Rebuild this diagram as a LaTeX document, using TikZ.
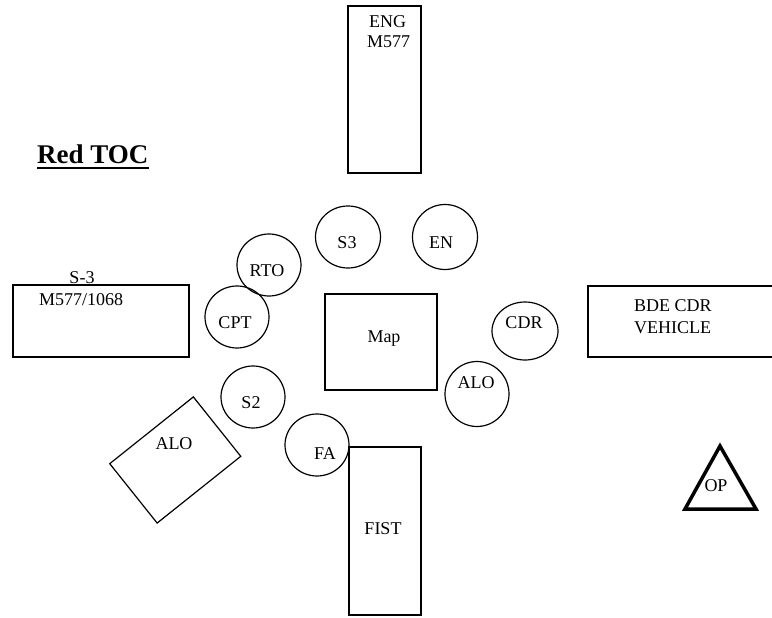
\documentclass[tikz,border=0pt]{standalone}
\usepackage{fontspec}
\setmainfont{Liberation Serif}
\usetikzlibrary{shapes.geometric}
\begin{document}
\begin{tikzpicture}[x=1pt,y=-1pt,
  box/.style={draw, line width=1.2pt, rectangle, inner sep=0pt, anchor=center},
  circ/.style={draw, line width=1.2pt, ellipse, inner sep=0pt, minimum width=64pt, minimum height=62pt},
  txt/.style={inner sep=0pt, anchor=base, font=\fontsize{18}{21}\selectfont},
  txtl/.style={txt, anchor=base west}]
\useasboundingbox (0,0) rectangle (772,618);
\clip (0,0) rectangle (772,618);
% title
\node[inner sep=0pt, anchor=base west, font=\fontsize{27}{30}\selectfont\bfseries] (title) at (37,164) {Red TOC};
\draw[line width=2pt] ([yshift=-4pt]title.base west) -- ([yshift=-4pt]title.base east);
% boxes
\node[box, minimum width=73pt, minimum height=167pt] (eng) at (384.5,89.5) {};
\node[txtl] (engA) at (369,28) {ENG};
\node[txtl] (engB) at (367,48) {M577};
\node[box, minimum width=176pt, minimum height=72pt] (s3box) at (101,321) {};
\node[txt] (s3A) at (82,283) {S-3};
\node[txtl] (s3B) at (39,305) {M577/1068};
\node[box, minimum width=112pt, minimum height=96pt] (map) at (381,342) {};
\node[txt] (mapt) at (384,342) {Map};
\node[box, minimum width=200pt, minimum height=71pt] (bde) at (688,321.5) {};
\node[txtl] (bdeA) at (634,311) {BDE CDR};
\node[txtl] (bdeB) at (634,333) {VEHICLE};
\node[box, minimum width=72pt, minimum height=168pt] (fist) at (385,531) {};
\node[txt] (fistt) at (383,534) {FIST};
% rotated ALO
\node[box, minimum width=107pt, minimum height=76pt, rotate=38.6] (alobox) at (175.25,460) {};
\node[txt] (alot) at (174,449) {ALO};
% circles
\node[circ] (rto) at (269,265) {};
\node[txt] (rtot) at (267,276) {RTO};
\node[circ] (cpt) at (237,317) {};
\node[txt] (cptt) at (235,328) {CPT};
\node[circ, minimum width=65pt] (s3) at (348,237) {};
\node[txt] (s3t) at (347,248) {S3};
\node[circ, minimum width=65pt, minimum height=65pt] (en) at (445,237) {};
\node[txt] (ent) at (441,248) {EN};
\node[circ, minimum width=66pt, minimum height=58pt] (cdr) at (525,331) {};
\node[txt] (cdrt) at (524,328) {CDR};
\node[circ, minimum height=65pt] (alo) at (477,394) {};
\node[txt] (alot2) at (476,388) {ALO};
\node[circ] (s2) at (253,397) {};
\node[txt] (s2t) at (251,408) {S2};
\node[circ] (fa) at (317,445) {};
\node[txt] (fat) at (325,459) {FA};
% OP triangle
\draw[line width=3.5pt, line join=miter] (720,446) -- (756,509) -- (685,509) -- cycle;
\node[txt] (opt) at (716,491) {OP};
\end{tikzpicture}
\end{document}
